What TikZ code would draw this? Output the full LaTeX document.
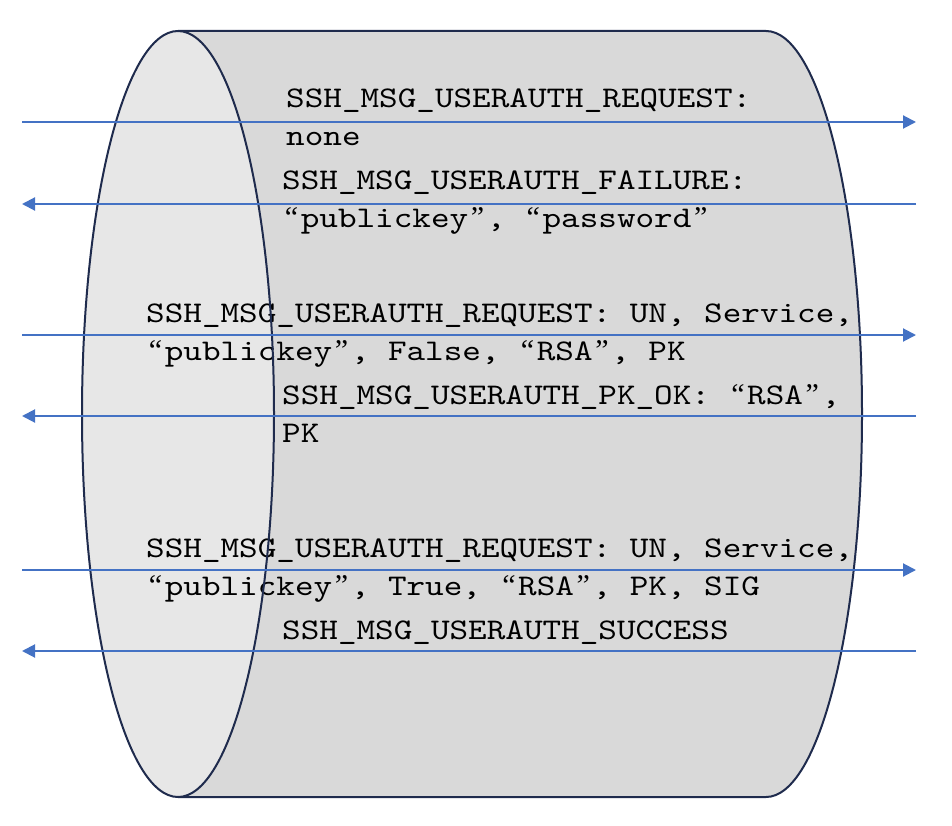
\documentclass[tikz,border=0pt]{standalone}
\usepackage{fontspec}
\setmonofont[FakeStretch=1.181]{lmmono10-regular.otf}
\newfontfamily\quotefont{Liberation Serif}
\usetikzlibrary{arrows.meta}
\definecolor{pipeLine}{HTML}{1F2B4D}
\definecolor{pipeBody}{HTML}{D9D9D9}
\definecolor{pipeFace}{HTML}{E7E7E7}
\definecolor{msgBlue}{HTML}{4472C4}
\tikzset{
    msgText/.style={anchor=base west, inner sep=0pt, align=left, font=\ttfamily\fontsize{30}{38}\selectfont},
    msgEdge/.style={-{Triangle[length=13pt, width=13pt]}, draw=msgBlue, line width=2pt},
    pipeEdge/.style={draw=pipeLine, line width=2pt},
}
\newcommand{\drawMsg}[2]{
    \draw[msgEdge] (#1) -- (#2);
}
% curly quotes, one monospace cell wide
\newcommand{\oq}{\makebox[18.6pt]{\quotefont “}}
\newcommand{\cq}{\makebox[18.6pt]{\quotefont ”}}
\begin{document}
\begin{tikzpicture}[x=1pt, y=-1pt]
        \useasboundingbox (0,0) rectangle (952,826);

        % pipe body and front face
        \fill[pipeBody] (178,31) -- (766,31) arc[start angle=-90, end angle=90, x radius=96, y radius=383] -- (178,797) -- cycle;
        \fill[pipeFace] (178,414) ellipse[x radius=96, y radius=383];

        % base anchor sits on the last line
        \node[msgText] (reqNone) at (286,145.5) {SSH\_MSG\_USERAUTH\_REQUEST:\\none};
        \node[msgText] (failure) at (282,228) {SSH\_MSG\_USERAUTH\_FAILURE:\\\oq publickey\cq, \oq password\cq};
        \node[msgText] (reqQuery) at (146,360) {SSH\_MSG\_USERAUTH\_REQUEST: UN, Service,\\\oq publickey\cq, False, \oq RSA\cq, PK};
        \node[msgText] (pkOk) at (282,442) {SSH\_MSG\_USERAUTH\_PK\_OK: \oq RSA\cq,\\PK};
        \node[msgText] (reqSig) at (146,595) {SSH\_MSG\_USERAUTH\_REQUEST: UN, Service,\\\oq publickey\cq, True, \oq RSA\cq, PK, SIG};
        \node[msgText] (success) at (282,639) {SSH\_MSG\_USERAUTH\_SUCCESS};

        \draw[pipeEdge] (178,31) -- (766,31) arc[start angle=-90, end angle=90, x radius=96, y radius=383] -- (178,797);
        \draw[pipeEdge] (178,414) ellipse[x radius=96, y radius=383];

        \foreach \i/\y in {1/122, 2/204, 3/335, 4/416, 5/570, 6/651} {
            \coordinate (client\i) at (22,\y);
            \coordinate (server\i) at (916,\y);
        }
        \drawMsg{client1}{server1}
        \drawMsg{server2}{client2}
        \drawMsg{client3}{server3}
        \drawMsg{server4}{client4}
        \drawMsg{client5}{server5}
        \drawMsg{server6}{client6}

    \end{tikzpicture}
\end{document}
